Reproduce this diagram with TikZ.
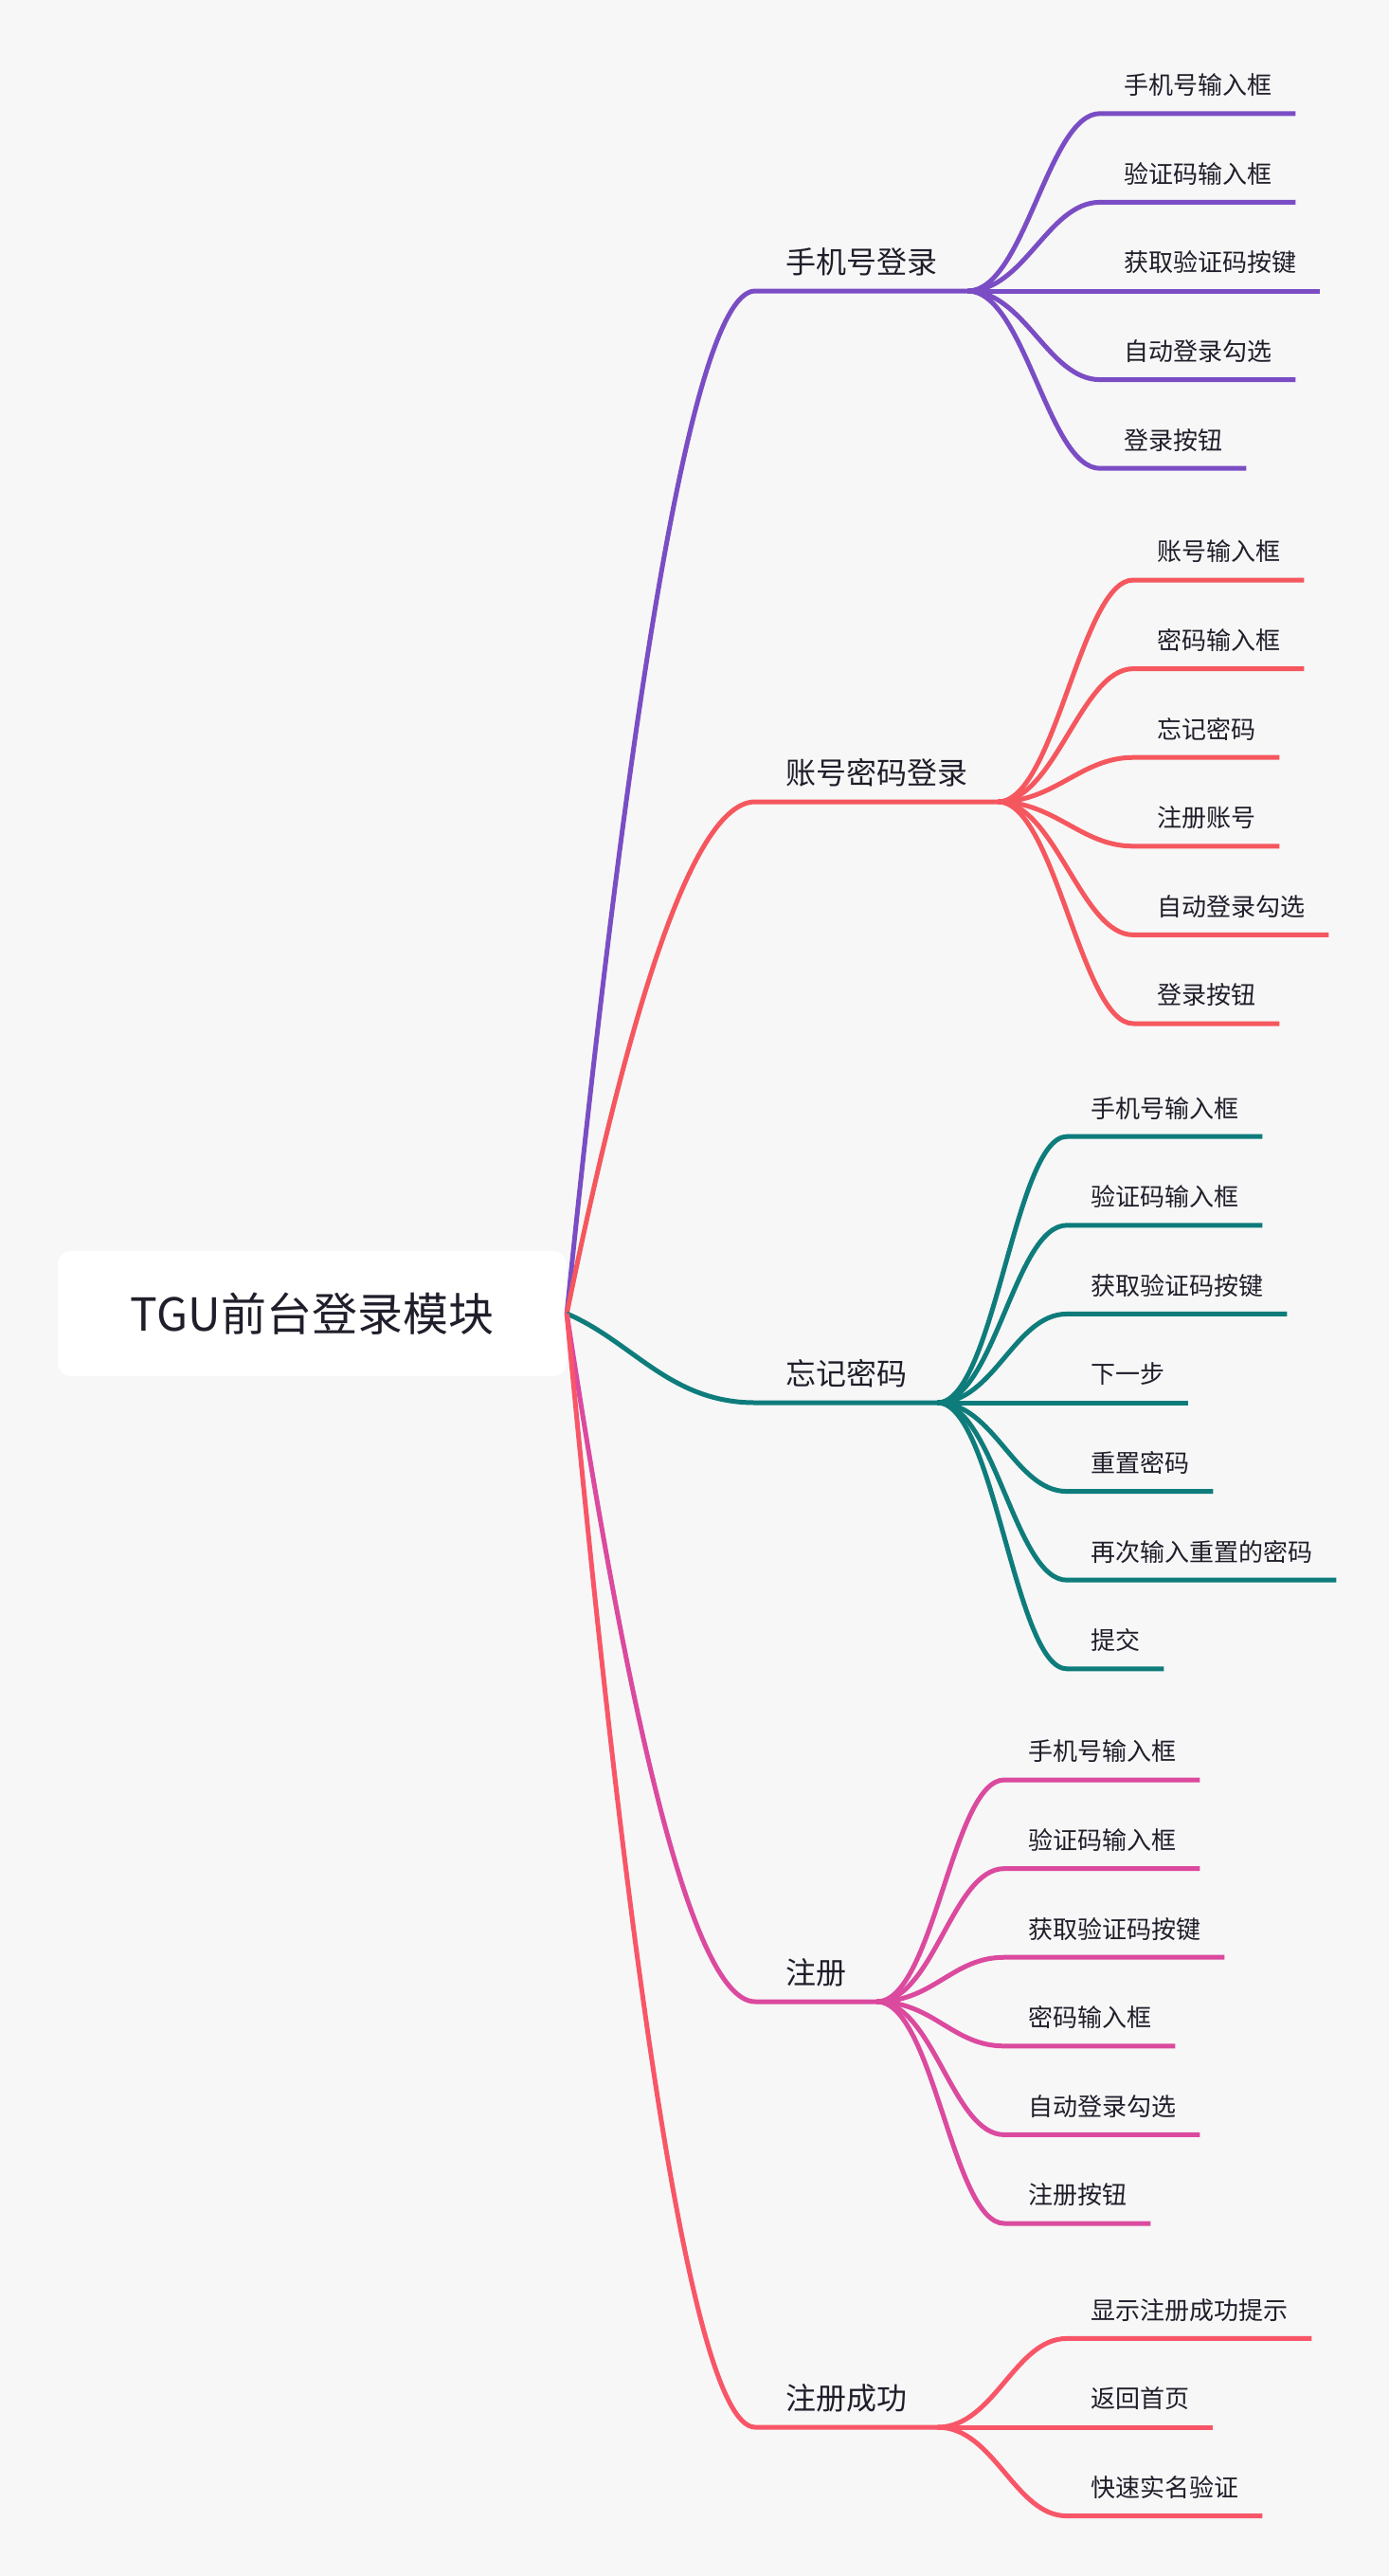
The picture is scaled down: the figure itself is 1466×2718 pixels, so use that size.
\documentclass[tikz,border=0pt]{standalone}
\usepackage{fontspec}
\setmainfont{Noto Sans CJK SC}
\usetikzlibrary{calc}
\definecolor{bg}{RGB}{247,247,247}
\definecolor{ink}{RGB}{32,30,42}
\definecolor{cP}{RGB}{122,77,196}
\definecolor{cR}{RGB}{245,87,94}
\definecolor{cT}{RGB}{14,124,123}
\definecolor{cK}{RGB}{219,74,158}
\definecolor{cS}{RGB}{248,86,104}
\newcommand\kidline[3]{\draw[link,#1] (#2.south east) .. controls +(60,0) and +(-55,0) .. (#3.south west) -- (#3.south east);}
\begin{document}
\begin{tikzpicture}[x=1pt,y=-1pt,
  rootbox/.style={fill=white, rounded corners=14pt, minimum width=537pt, minimum height=132pt, inner sep=0pt, font=\fontsize{48}{56}\selectfont, text=ink},
  lone/.style={anchor=south west, inner xsep=32pt, inner ysep=18pt, text height=0.9em, text depth=0pt, font=\fontsize{32}{36}\selectfont, text=ink},
  ltwo/.style={anchor=south west, inner xsep=25pt, inner ysep=20pt, text height=0.9em, text depth=0pt, font=\fontsize{26}{30}\selectfont, text=ink},
  link/.style={line width=5pt}]
\fill[bg] (0,0) rectangle (1466,2718);
\useasboundingbox (0,0) rectangle (1466,2718);

\node[rootbox] (root) at (329.5,1386) {TGU前台登录模块};

% level 1
\node[lone] (b1) at (797,307) {手机号登录};
\node[lone] (b2) at (797,846) {账号密码登录};
\node[lone] (b3) at (797,1480) {忘记密码};
\node[lone] (b4) at (797,2112) {注册};
\node[lone] (b5) at (797,2561) {注册成功};

\draw[link,cP] (root.east) .. controls +(53,-518) and +(-74,0) .. (b1.south west) -- (b1.south east);
\draw[link,cR] (root.east) .. controls +(53,-259) and +(-74,0) .. (b2.south west) -- (b2.south east);
\draw[link,cT] (root.east) .. controls +(70,30) and +(-90,0) .. (b3.south west) -- (b3.south east);
\draw[link,cK] (root.east) .. controls +(53,348) and +(-74,0) .. (b4.south west) -- (b4.south east);
\draw[link,cS] (root.east) .. controls +(53,564) and +(-74,0) .. (b5.south west) -- (b5.south east);

% branch 1
\node[ltwo] (c11) at (1161,119.8) {手机号输入框};
\node[ltwo] (c12) at (1161,213.4) {验证码输入框};
\node[ltwo] (c13) at (1161,307) {获取验证码按键};
\node[ltwo] (c14) at (1161,400.6) {自动登录勾选};
\node[ltwo] (c15) at (1161,494.2) {登录按钮};
\foreach \c in {c11,c12,c13,c14,c15} {\kidline{cP}{b1}{\c}}

% branch 2
\node[ltwo] (c21) at (1196,612) {账号输入框};
\node[ltwo] (c22) at (1196,705.6) {密码输入框};
\node[ltwo] (c23) at (1196,799.2) {忘记密码};
\node[ltwo] (c24) at (1196,892.8) {注册账号};
\node[ltwo] (c25) at (1196,986.4) {自动登录勾选};
\node[ltwo] (c26) at (1196,1080) {登录按钮};
\foreach \c in {c21,c22,c23,c24,c25,c26} {\kidline{cR}{b2}{\c}}

% branch 3
\node[ltwo] (c31) at (1126,1199.2) {手机号输入框};
\node[ltwo] (c32) at (1126,1292.8) {验证码输入框};
\node[ltwo] (c33) at (1126,1386.4) {获取验证码按键};
\node[ltwo] (c34) at (1126,1480) {下一步};
\node[ltwo] (c35) at (1126,1573.6) {重置密码};
\node[ltwo] (c36) at (1126,1667.2) {再次输入重置的密码};
\node[ltwo] (c37) at (1126,1760.8) {提交};
\foreach \c in {c31,c32,c33,c34,c35,c36,c37} {\kidline{cT}{b3}{\c}}

% branch 4
\node[ltwo] (c41) at (1060,1878) {手机号输入框};
\node[ltwo] (c42) at (1060,1971.6) {验证码输入框};
\node[ltwo] (c43) at (1060,2065.2) {获取验证码按键};
\node[ltwo] (c44) at (1060,2158.8) {密码输入框};
\node[ltwo] (c45) at (1060,2252.4) {自动登录勾选};
\node[ltwo] (c46) at (1060,2346) {注册按钮};
\foreach \c in {c41,c42,c43,c44,c45,c46} {\kidline{cK}{b4}{\c}}

% branch 5
\node[ltwo] (c51) at (1126,2467.4) {显示注册成功提示};
\node[ltwo] (c52) at (1126,2561) {返回首页};
\node[ltwo] (c53) at (1126,2654.6) {快速实名验证};
\foreach \c in {c51,c52,c53} {\kidline{cS}{b5}{\c}}
\end{tikzpicture}
\end{document}
